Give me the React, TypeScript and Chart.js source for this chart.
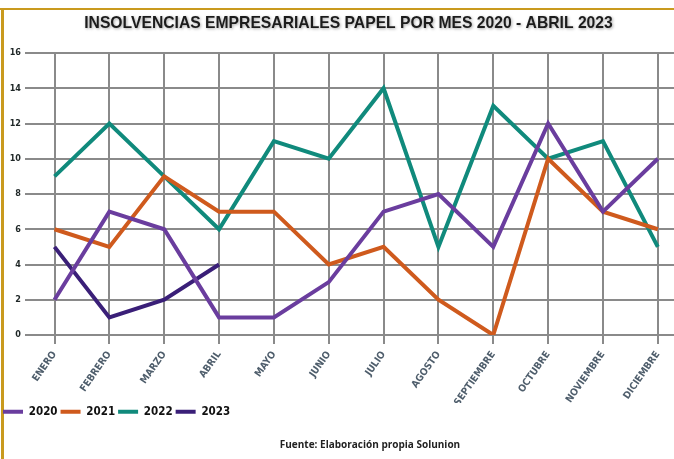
import React, { useEffect, useRef } from "react";
import { Chart, registerables } from "chart.js";

Chart.register(...registerables);

const TITLE = "INSOLVENCIAS EMPRESARIALES PAPEL POR MES 2020 - ABRIL 2023";
const SOURCE = "Fuente: Elaboración propia Solunion";
const MONTHS = [
  "ENERO", "FEBRERO", "MARZO", "ABRIL", "MAYO", "JUNIO",
  "JULIO", "AGOSTO", "SEPTIEMBRE", "OCTUBRE", "NOVIEMBRE", "DICIEMBRE",
];
const SERIES_NAMES = ["2020", "2021", "2022", "2023"];
const V2020 = [2, 7, 6, 1, 1, 3, 7, 8, 5, 12, 7, 10];
const V2021 = [6, 5, 9, 7, 7, 4, 5, 2, 0, 10, 7, 6];
const V2022 = [9, 12, 9, 6, 11, 10, 14, 5, 13, 10, 11, 5];
const V2023 = [5, 1, 2, 4];
const Y_MIN = 0;
const Y_MAX = 16;
const Y_STEP = 2;

const COLORS = ["#6a3d9e", "#cf5a1d", "#108a7c", "#3a1f78"];
const NARROW = "'Liberation Sans Narrow', 'DejaVu Sans Condensed', sans-serif";

const textPlugin = {
  id: "textBlocks",
  afterDraw(chart: any) {
    const ctx = chart.ctx;
    ctx.save();
    ctx.textAlign = "center";
    ctx.textBaseline = "middle";
    ctx.fillStyle = "#1c1c1c";
    ctx.shadowColor = "rgba(0,0,0,0.35)";
    ctx.shadowBlur = 3;
    ctx.shadowOffsetX = 1;
    ctx.shadowOffsetY = 1;
    ctx.font = "bold 15.7px 'Liberation Sans', Arial, sans-serif";
    ctx.fillText(TITLE, 348.5, 23.5);
    ctx.shadowColor = "transparent";
    ctx.font = "bold 10px 'Open Sans', sans-serif";
    ctx.fillStyle = "#222";
    ctx.fillText(SOURCE, 370, 445);
    ctx.restore();
  },
};

export default function App() {
  const ref = useRef<HTMLCanvasElement | null>(null);

  useEffect(() => {
    if (!ref.current) return;
    const all = [V2020, V2021, V2022, V2023];
    const chart = new Chart(ref.current, {
      type: "line",
      data: {
        datasets: all.map((vals, k) => ({
          label: SERIES_NAMES[k],
          data: vals.map((v, i) => ({ x: i, y: v })),
          borderColor: COLORS[k],
          backgroundColor: COLORS[k],
          borderWidth: 4,
          pointRadius: 0,
          tension: 0,
          fill: false,
        })),
      },
      options: {
        responsive: false,
        animation: false,
        layout: { padding: { top: 53, right: 0, bottom: 31.5, left: 0 } },
        scales: {
          x: {
            type: "linear",
            min: -0.538,
            max: 11.295,
            afterBuildTicks: (s: any) => {
              s.ticks = MONTHS.map((_, i) => ({ value: i }));
            },
            afterFit: (s: any) => {
              s.height = 68;
            },
            ticks: {
              autoSkip: false,
              minRotation: 55,
              maxRotation: 55,
              padding: 5,
              color: "#4f5e6c",
              font: { family: NARROW, size: 10, weight: "bold" },
              callback: (v: any) => MONTHS[Math.round(v)] ?? "",
            },
            grid: { color: "#8a8a8a", lineWidth: 2, tickLength: 9, drawTicks: true },
            border: { display: false },
          },
          y: {
            min: Y_MIN,
            max: Y_MAX,
            afterFit: (s: any) => {
              s.width = 25;
            },
            ticks: {
              stepSize: Y_STEP,
              padding: 4,
              color: "#1e2626",
              font: { family: NARROW, size: 9, weight: "bold" },
            },
            grid: { color: "#8a8a8a", lineWidth: 2, drawTicks: false },
            border: { display: false },
          },
        },
        plugins: {
          legend: {
            position: "bottom",
            align: "start",
            labels: {
              usePointStyle: true,
              pointStyle: "line",
              pointStyleWidth: 20,
              padding: 3,
              color: "#111",
              font: { family: NARROW, size: 11.5, weight: "bold" },
            },
          },
          title: { display: false },
          tooltip: { enabled: false },
        },
      },
      plugins: [textPlugin],
    } as any);
    return () => chart.destroy();
  }, []);

  return (
    <div style={{ position: "fixed", left: 0, top: 0, width: 674, height: 459, background: "#fff", overflow: "hidden" }}>
      <div style={{ position: "absolute", left: 0, top: 8, width: 674, height: 2, background: "#c99a1e" }} />
      <div style={{ position: "absolute", left: 1, top: 8, width: 3, height: 451, background: "#c99a1e" }} />
      <canvas ref={ref} width={674} height={459} style={{ position: "absolute", left: 0, top: 0, width: 674, height: 459 }} />
    </div>
  );
}
